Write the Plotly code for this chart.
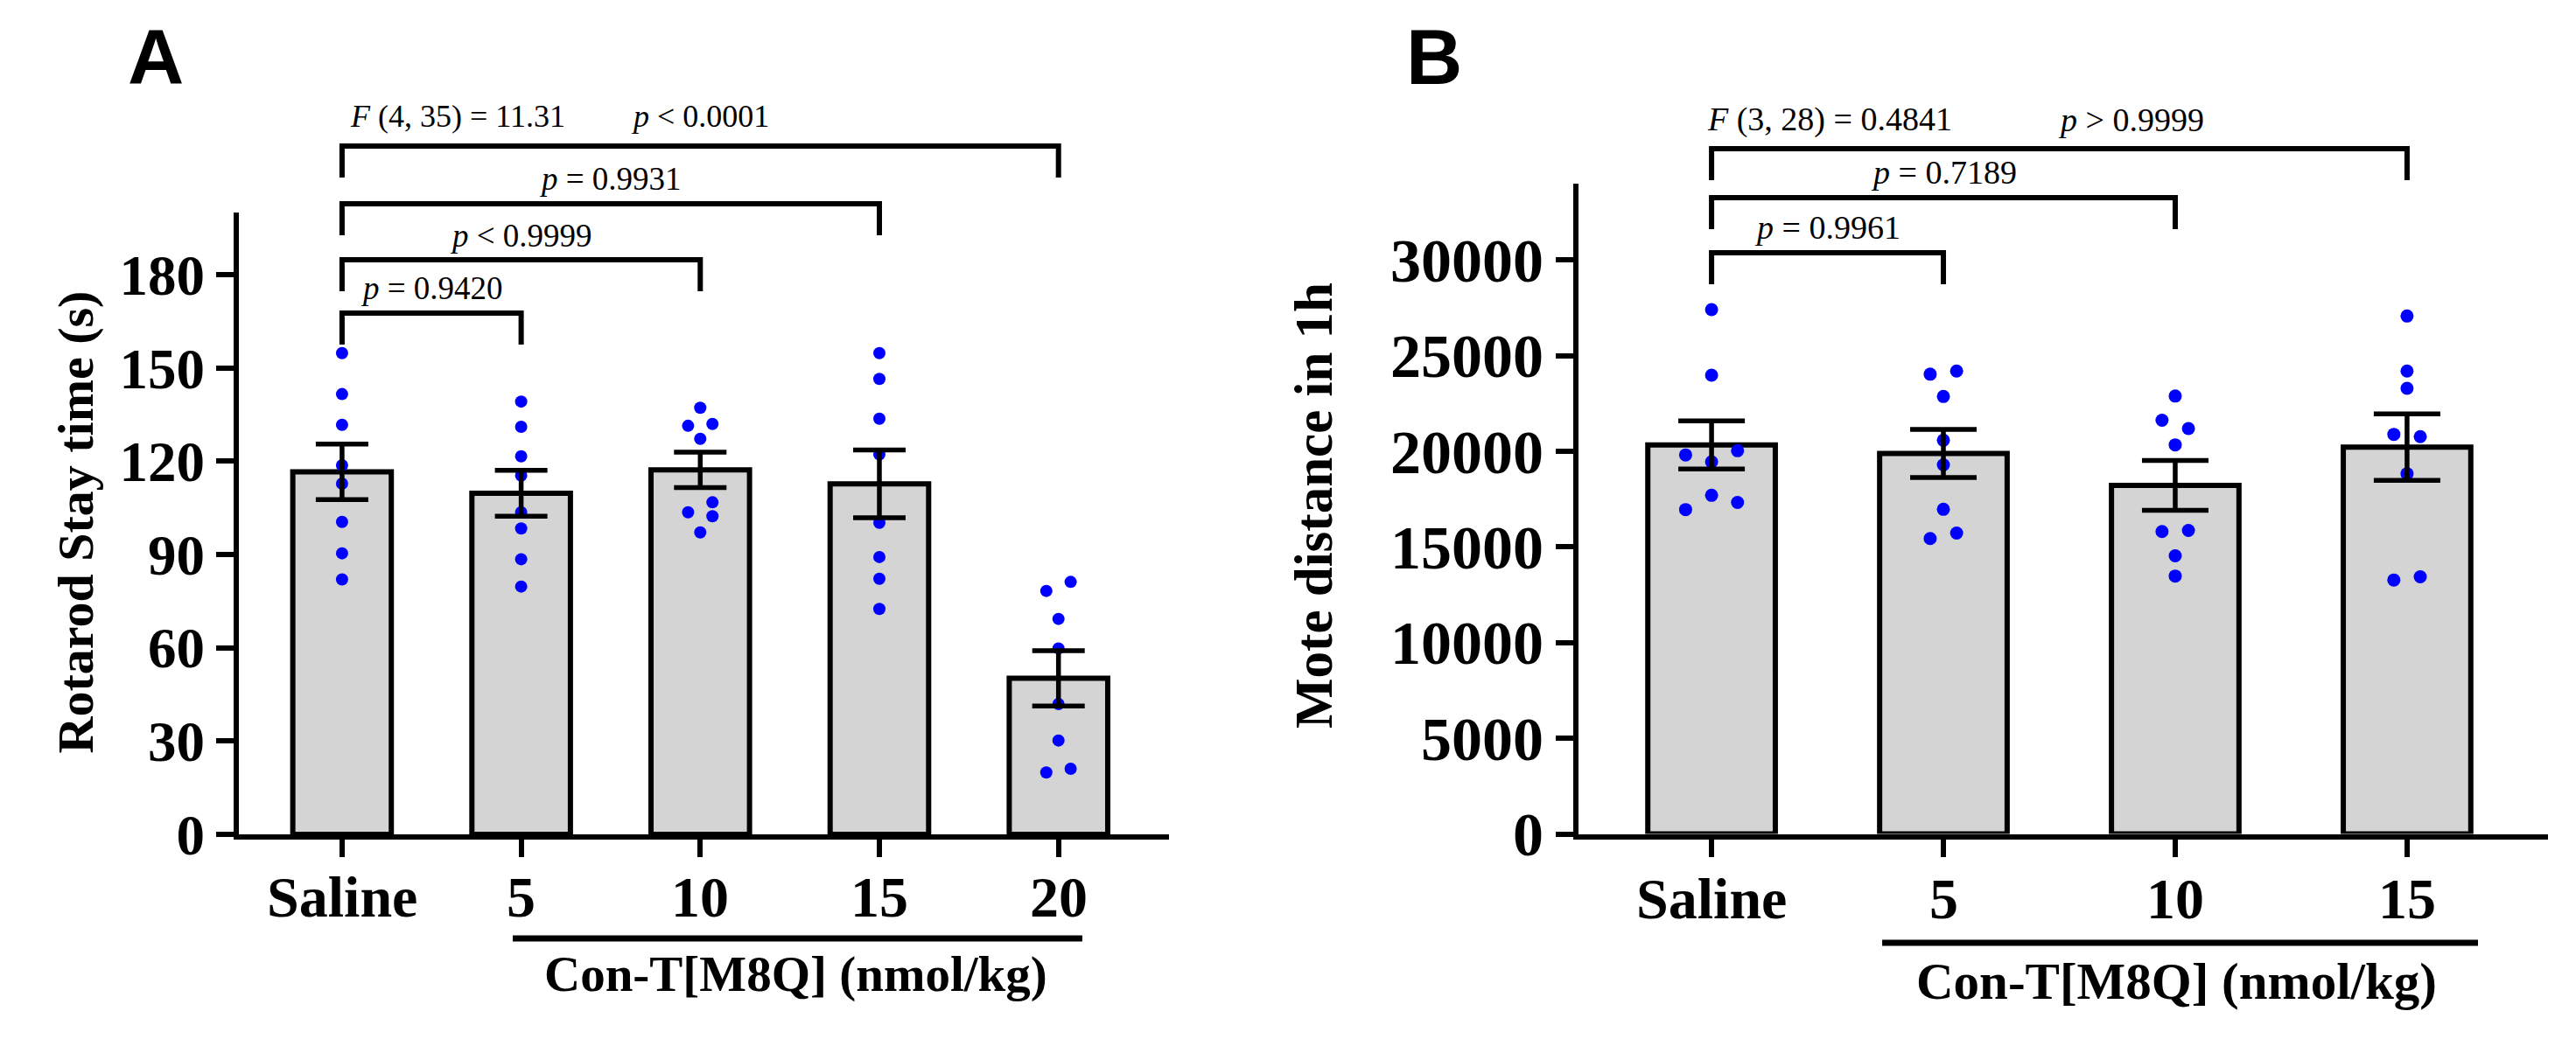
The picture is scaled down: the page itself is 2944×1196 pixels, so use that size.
import plotly.graph_objects as go

SERIF = "Liberation Serif, Times New Roman, serif"
SANS = "Liberation Sans, Arial, sans-serif"
W, H = 2944, 1196

# =========================================================
# Data
# =========================================================
# Panel A - rotarod stay time (s)
A_GROUPS = ["Saline", "5", "10", "15", "20"]
A_MEAN = [116.6, 109.7, 117.2, 112.7, 50.2]
A_SEM = [8.9, 7.4, 5.7, 10.9, 8.9]
A_POINTS = [
    [154.8, 141.6, 131.7, 118.7, 112.8, 100.5, 90.4, 82.0],
    [139.2, 131.1, 121.6, 115.4, 103.6, 98.4, 88.5, 79.7],
    [137.2, 131.4, 132.0, 127.2, 106.8, 103.6, 102.3, 97.1],
    [154.8, 146.5, 133.7, 122.2, 100.2, 89.2, 82.2, 72.5],
    [81.2, 78.3, 69.3, 59.8, 41.9, 30.2, 21.1, 19.9],
]
A_STATS = "<i>F</i> (4, 35) = 11.31"
A_OVERALL_P = "<i>p</i> < 0.0001"
A_PAIR_P = ["<i>p</i> = 0.9420", "<i>p</i> < 0.9999", "<i>p</i> = 0.9931"]

# Panel B - locomotor distance in 1 h
B_GROUPS = ["Saline", "5", "10", "15"]
B_MEAN = [20338, 19893, 18222, 20225]
B_SEM = [1262, 1255, 1306, 1735]
B_POINTS = [
    [27412, 23983, 20037, 19817, 19456, 17705, 17334, 16959],
    [24202, 24038, 22872, 20585, 19301, 16973, 15730, 15444],
    [22894, 21628, 21198, 20343, 15871, 15812, 14545, 13484],
    [27078, 24202, 23302, 20892, 20773, 18834, 13443, 13278],
]
B_STATS = "<i>F</i> (3, 28) = 0.4841"
B_OVERALL_P = "<i>p</i> > 0.9999"
B_PAIR_P = ["<i>p</i> = 0.9961", "<i>p</i> = 0.7189"]

# scatter column slots (-1 left, 0 centre, +1 right) as laid out in the figure
A_SLOTS = [
    [0] * 8,
    [0] * 8,
    [0, -1, 1, 0, 1, -1, 1, 0],
    [0] * 8,
    [1, -1, 0, 0, 0, 0, 1, -1],
]
B_SLOTS = [
    [0, 0, 1, -1, 0, 0, 1, -1],
    [1, -1, 0, 0, 0, 0, 1, -1],
    [0, -1, 1, 0, 1, -1, 0, 0],
    [0, 0, 0, -1, 1, 0, 1, -1],
]
A_SPREAD = [0.068] * 5
B_SPREAD = [0.112, 0.057, 0.057, 0.057]


def py(px):
    """pixel row -> paper y"""
    return 1 - px / H


fig = go.Figure()


def add_panel(fig, groups, means, sems, points, slots, spread, xa, ya,
              dot_size, cap):
    xs = list(range(len(groups)))
    fig.add_trace(go.Bar(
        x=xs, y=means, width=0.55, xaxis=xa, yaxis=ya,
        marker=dict(color="#D4D4D4", line=dict(color="black", width=6)),
        hoverinfo="skip",
    ))
    px_, py_ = [], []
    for gi, vals in enumerate(points):
        for v, s in zip(vals, slots[gi]):
            px_.append(gi + s * spread[gi])
            py_.append(v)
    fig.add_trace(go.Scatter(
        x=px_, y=py_, mode="markers", xaxis=xa, yaxis=ya,
        marker=dict(color="#0000FF", size=dot_size),
        cliponaxis=False,
    ))
    # error bars on top of the dots
    fig.add_trace(go.Scatter(
        x=xs, y=means, mode="markers", xaxis=xa, yaxis=ya,
        marker=dict(size=1, color="rgba(0,0,0,0)"),
        error_y=dict(type="data", array=sems, color="black",
                     thickness=5.5, width=cap),
    ))


add_panel(fig, A_GROUPS, A_MEAN, A_SEM, A_POINTS, A_SLOTS, A_SPREAD,
          "x", "y", 14, 30)
add_panel(fig, B_GROUPS, B_MEAN, B_SEM, B_POINTS, B_SLOTS, B_SPREAD,
          "x2", "y2", 15, 38)


def xaxis_style(domain, rng, groups, anchor):
    # category labels are placed as annotations below (closer to the axis)
    return dict(
        domain=domain, range=rng, tickvals=list(range(len(groups))),
        showticklabels=False, anchor=anchor, automargin=False,
        showline=True, linewidth=6, linecolor="black",
        ticks="outside", ticklen=20, tickwidth=6, tickcolor="black",
        showgrid=False, zeroline=False, fixedrange=True,
    )


def yaxis_style(domain, rng, dtick, size, anchor):
    return dict(
        domain=domain, range=rng, dtick=dtick, tick0=0, anchor=anchor,
        tickformat="d", automargin=False,
        showline=True, linewidth=6, linecolor="black",
        ticks="outside", ticklen=20, tickwidth=6, tickcolor="black",
        tickfont=dict(family=SERIF, size=size, color="black", weight="bold"),
        showgrid=False, zeroline=False, fixedrange=True,
    )


fig.update_layout(
    width=W, height=H, autosize=False,
    margin=dict(l=0, r=0, t=0, b=0, pad=0, autoexpand=False),
    paper_bgcolor="white", plot_bgcolor="white", showlegend=False,
    xaxis=xaxis_style([273 / W, 1336 / W], [-0.576, 4.617], A_GROUPS, "y"),
    yaxis=yaxis_style([py(954), py(243)], [0, 200], 30, 65, "x"),
    xaxis2=xaxis_style([1804 / W, 2912 / W], [-0.574, 3.608], B_GROUPS, "y2"),
    yaxis2=yaxis_style([py(953.5), py(210)], [0, 34000], 5000, 70, "x2"),
)


# ---------------------------------------------------------
# labels, comparison brackets
# ---------------------------------------------------------
def bracket(xref, x0, x1, top_px, drop=36):
    yt, yb = py(top_px), py(top_px + drop)
    fig.add_shape(type="path", xref=xref, yref="paper",
                  path=f"M {x0},{yb} L {x0},{yt} L {x1},{yt} L {x1},{yb}",
                  line=dict(color="black", width=6))


def note(xref, x, y_px, text, size, anchor="center", bold=False):
    fig.add_annotation(xref=xref, yref="paper", x=x, y=py(y_px),
                       text=f"<b>{text}</b>" if bold else text,
                       showarrow=False, xanchor=anchor, yanchor="middle",
                       font=dict(family=SERIF, size=size, color="black"))


# category labels
for i, g in enumerate(A_GROUPS):
    note("x", i, 1025, g, 66, bold=True)
for i, g in enumerate(B_GROUPS):
    note("x2", i, 1027, g, 66, bold=True)

# panel A
for x1, top in zip([4, 3, 2, 1], [167, 233, 297, 358]):
    bracket("x", 0, x1, top)
note("x", 0.645, 133, A_STATS, 36)
note("x", 2.0, 133, A_OVERALL_P, 36)
for x1, ypx, txt in zip([1, 2, 3], [329, 269, 204], A_PAIR_P):
    note("x", x1 / 2, ypx, txt, 37)

# panel B
for x1, top in zip([3, 2, 1], [170, 226, 289]):
    bracket("x2", 0, x1, top)
note("x2", 0.51, 137, B_STATS, 38)
note("x2", 1.81, 137, B_OVERALL_P, 38)
for x1, ypx, txt in zip([1, 2], [260, 197], B_PAIR_P):
    note("x2", x1 / 2, ypx, txt, 38)

# treatment underline + label
fig.add_shape(type="line", xref="x", yref="paper", x0=0.953, x1=4.133,
              y0=py(1073), y1=py(1073), line=dict(color="black", width=7))
fig.add_shape(type="line", xref="x2", yref="paper", x0=0.736, x1=3.306,
              y0=py(1078), y1=py(1078), line=dict(color="black", width=7))
note("x", 2.535, 1114, "Con-T[M8Q] (nmol/kg)", 57, bold=True)
note("x2", 2.004, 1122, "Con-T[M8Q] (nmol/kg)", 59, bold=True)

# axis titles
fig.add_annotation(xref="paper", yref="paper", x=52 / W, y=py(597),
                   text="<b>Rotarod Stay time (s)</b>", textangle=-90,
                   showarrow=False,
                   font=dict(family=SERIF, size=58, color="black"))
fig.add_annotation(xref="paper", yref="paper", x=1501 / W, y=py(578),
                   text="<b>Mote distance in 1h</b>", textangle=-90,
                   showarrow=False,
                   font=dict(family=SERIF, size=61, color="black"))

# panel letters
for letter, xpx in [("A", 144), ("B", 1605)]:
    fig.add_annotation(xref="paper", yref="paper", x=xpx / W, y=py(65),
                       text=f"<b>{letter}</b>", showarrow=False,
                       xanchor="left", yanchor="middle",
                       font=dict(family=SANS, size=89, color="black"))

fig.write_html(
    "out.html",
    config={"responsive": False, "displayModeBar": False},
    post_script="document.body.style.margin='0';"
                "document.body.style.overflow='hidden';",
)
